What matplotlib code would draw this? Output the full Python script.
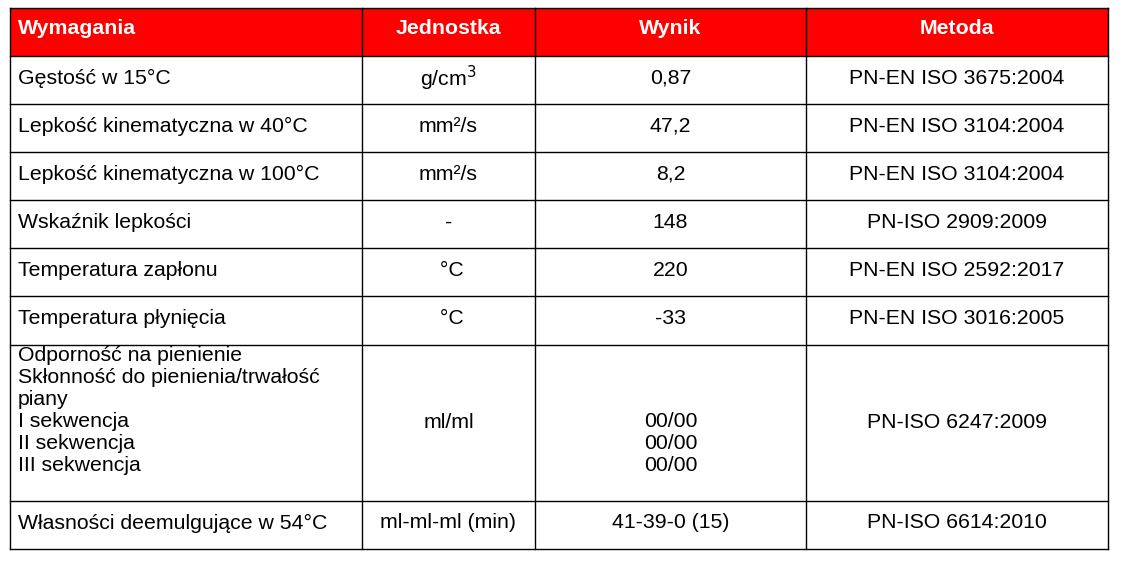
import matplotlib.pyplot as plt

plt.rcParams['font.family'] = ['Liberation Sans', 'DejaVu Sans']

headers = ['Wymagania', 'Jednostka', 'Wynik', 'Metoda']
wymagania = ['Gęstość w 15°C', 'Lepkość kinematyczna w 40°C', 'Lepkość kinematyczna w 100°C',
             'Wskaźnik lepkości', 'Temperatura zapłonu', 'Temperatura płynięcia',
             'Odporność na pienienie\nSkłonność do pienienia/trwałość\npiany\nI sekwencja\nII sekwencja\nIII sekwencja',
             'Własności deemulgujące w 54°C']
jednostki = ['g/cm$^3$', 'mm²/s', 'mm²/s', '-', ' °C', ' °C', 'ml/ml', 'ml-ml-ml (min)']
wyniki = ['0,87', '47,2', '8,2', '148', '220', '-33', '\n\n\n00/00\n00/00\n00/00', '41-39-0 (15)']
metody = ['PN-EN ISO 3675:2004', 'PN-EN ISO 3104:2004', 'PN-EN ISO 3104:2004', 'PN-ISO 2909:2009',
          'PN-EN ISO 2592:2017', 'PN-EN ISO 3016:2005', 'PN-ISO 6247:2009', 'PN-ISO 6614:2010']

# layout in pixels
cols = [10, 362, 535, 806, 1108]
rows = [8, 56, 104, 152, 200, 248, 296, 345, 501, 549]

fig = plt.figure(figsize=(11.46, 5.62), dpi=100)
ax = fig.add_axes([0, 0, 1, 1])
ax.set_xlim(0, 1146)
ax.set_ylim(562, 0)
ax.axis('off')

ax.add_patch(plt.Rectangle((cols[0], rows[0]), cols[-1] - cols[0], rows[1] - rows[0],
                           facecolor='#ff0000', edgecolor='none'))
for x in cols:
    ax.plot([x, x], [rows[0], rows[-1]], color='black', lw=1)
for y in rows:
    ax.plot([cols[0], cols[-1]], [y, y], color='black', lw=1)

fs = 15.3
hy = (rows[0] + rows[1]) / 2 - 3
ax.text(18, hy, headers[0], color='white', fontweight='bold', fontsize=fs, va='center', ha='left')
for i in range(1, 4):
    ax.text((cols[i] + cols[i + 1]) / 2, hy, headers[i], color='white', fontweight='bold',
            fontsize=fs, va='center', ha='center')

for r in range(len(wymagania)):
    top, bot = rows[r + 1], rows[r + 2]
    if r == 6:
        ax.text(18, top + 1, wymagania[r], fontsize=fs, va='top', ha='left', linespacing=1.2)
        ax.text((cols[2] + cols[3]) / 2, top + 1, wyniki[r], fontsize=fs, va='top', ha='center',
                linespacing=1.2)
        cy = 422
        ax.text((cols[1] + cols[2]) / 2, cy, jednostki[r], fontsize=fs, va='center', ha='center')
        ax.text((cols[3] + cols[4]) / 2, cy, metody[r], fontsize=fs, va='center', ha='center')
        continue
    cy = (top + bot) / 2 - 2
    ax.text(18, cy, wymagania[r], fontsize=fs, va='center', ha='left')
    ax.text((cols[1] + cols[2]) / 2, cy, jednostki[r], fontsize=fs, va='center', ha='center')
    ax.text((cols[2] + cols[3]) / 2, cy, wyniki[r], fontsize=fs, va='center', ha='center')
    ax.text((cols[3] + cols[4]) / 2, cy, metody[r], fontsize=fs, va='center', ha='center')

fig.savefig('out.png', dpi=100)
